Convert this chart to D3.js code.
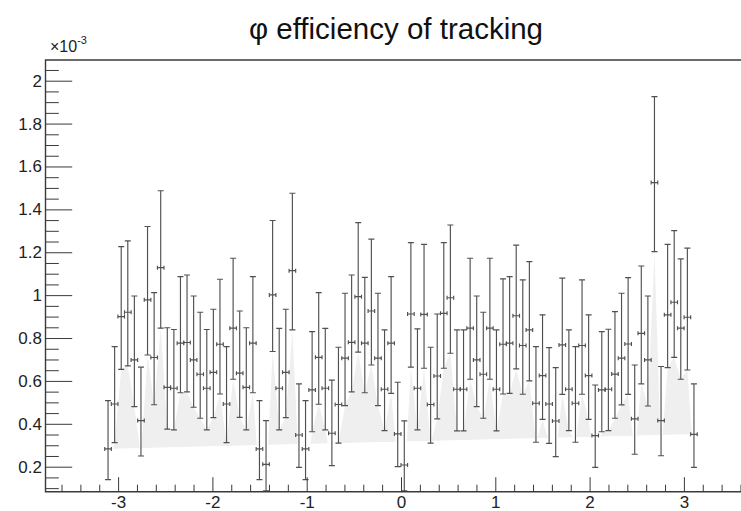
<!DOCTYPE html>
<html>
<head>
<meta charset="utf-8">
<script src="https://cdn.jsdelivr.net/npm/d3@7"></script>
<style>
  html, body { margin: 0; padding: 0; background: #fff; }
  svg { display: block; font-family: "Liberation Sans", Arial, Helvetica, sans-serif; }
</style>
</head>
<body>
<svg id="chart" width="741" height="511"></svg>
<script>
// Tracking efficiency vs phi, 90 bins over [-pi, pi], values in units of 1e-3
const nBins = 90;
const phiMin = -Math.PI;
const phiMax = Math.PI;

const effValue = [
  0.283, 0.4925, 0.900, 0.920, 0.698, 0.415, 0.978, 0.709, 1.128, 0.570,
  0.566, 0.776, 0.779, 0.698, 0.631, 0.566, 0.640, 0.771, 0.4925, 0.846,
  0.636, 0.570, 0.776, 0.283, 0.211, 1.001, 0.566, 0.640, 1.114, 0.348,
  0.283, 0.558, 0.710, 0.566, 0.356, 0.490, 0.706, 0.780, 0.993, 0.776,
  0.926, 0.706, 0.561, 0.776, 0.353, 0.208, 0.912, 0.566, 0.910, 0.490,
  0.623, 0.915, 0.988, 0.561, 0.561, 0.846, 0.698, 0.631, 0.846, 0.561,
  0.771, 0.776, 0.904, 0.765, 0.838, 0.496, 0.625, 0.4925, 0.413, 0.768,
  0.561, 0.496, 0.765, 0.625, 0.345, 0.558, 0.561, 0.632, 0.706, 0.772,
  0.423, 0.822, 0.698, 1.525, 0.415, 0.908, 0.967, 0.846, 0.897, 0.351
];

// Upper end of each confidence interval
const effUpper = [
  0.508, 0.760, 1.226, 1.253, 0.996, 0.664, 1.320, 1.012, 1.487, 0.848,
  0.840, 1.086, 1.094, 0.996, 0.920, 0.840, 0.934, 1.074, 0.760, 1.172,
  0.926, 0.848, 1.086, 0.508, 0.415, 1.348, 0.845, 0.934, 1.475, 0.586,
  0.508, 0.830, 1.012, 0.845, 0.604, 0.757, 1.009, 1.094, 1.338, 1.083,
  1.261, 1.009, 0.838, 1.086, 0.594, 0.414, 1.245, 0.843, 1.237, 0.757,
  0.912, 1.245, 1.327, 0.838, 0.838, 1.172, 0.996, 0.920, 1.172, 0.838,
  1.076, 1.086, 1.233, 1.071, 1.156, 0.760, 0.908, 0.755, 0.662, 1.079,
  0.838, 0.760, 1.071, 0.908, 0.581, 0.830, 0.841, 0.923, 1.009, 1.082,
  0.674, 1.136, 0.996, 1.926, 0.667, 1.237, 1.301, 1.169, 1.219, 0.586
];

// Lower end of each confidence interval
const effLower = [
  0.140, 0.312, 0.654, 0.670, 0.480, 0.250, 0.721, 0.489, 0.846, 0.375,
  0.372, 0.545, 0.549, 0.477, 0.426, 0.372, 0.429, 0.539, 0.312, 0.608,
  0.430, 0.372, 0.545, 0.140, 0.087, 0.737, 0.372, 0.429, 0.838, 0.197,
  0.140, 0.363, 0.491, 0.372, 0.205, 0.310, 0.485, 0.549, 0.734, 0.545,
  0.674, 0.485, 0.368, 0.542, 0.200, 0.087, 0.664, 0.372, 0.659, 0.310,
  0.423, 0.659, 0.729, 0.367, 0.367, 0.608, 0.480, 0.426, 0.608, 0.367,
  0.539, 0.542, 0.656, 0.538, 0.600, 0.314, 0.421, 0.309, 0.247, 0.537,
  0.368, 0.314, 0.538, 0.421, 0.197, 0.363, 0.368, 0.426, 0.488, 0.537,
  0.258, 0.586, 0.483, 1.203, 0.251, 0.662, 0.710, 0.608, 0.651, 0.197
];

const xTickValues = [-3, -2, -1, 0, 1, 2, 3];
const xTickLabels = ["-3", "-2", "-1", "0", "1", "2", "3"];
const yTickValues = [0.2, 0.4, 0.6, 0.8, 1.0, 1.2, 1.4, 1.6, 1.8, 2.0];
const yTickLabels = ["0.2", "0.4", "0.6", "0.8", "1", "1.2", "1.4", "1.6", "1.8", "2"];

const titleText = "\u03C6 efficiency of tracking";

// ---- layout ----
const svg = d3.select("#chart");
const frame = { left: 45.5, top: 60, bottom: 491.7, right: 756.5 };
const lineColor = "#3a3a3a";

const binWidth = (phiMax - phiMin) / nBins;
const points = effValue.map((v, i) => ({
  x: phiMin + (i + 0.5) * binWidth,
  y: v, hi: effUpper[i], lo: effLower[i]
}));

const x = d3.scaleLinear().domain([-1.2 * Math.PI, 1.2 * Math.PI]).range([frame.left, frame.right]);
const y = d3.scaleLinear().domain([0.0834, 2.0965]).range([frame.bottom, frame.top]);

// plot-area clip
const defs = svg.append("defs");
defs.append("clipPath").attr("id", "plotClip")
  .append("rect")
  .attr("x", frame.left).attr("y", frame.top)
  .attr("width", frame.right - frame.left).attr("height", frame.bottom - frame.top);

// the band only shows above the chord joining the first and last points
const first = points[0], last = points[points.length - 1];
defs.append("clipPath").attr("id", "chordClip")
  .append("polygon")
  .attr("points", [
    [x(first.x), y(first.y)], [x(last.x), y(last.y)],
    [x(last.x), frame.top], [x(first.x), frame.top]
  ].map(p => p.join(",")).join(" "));

const plot = svg.append("g").attr("clip-path", "url(#plotClip)");

// light grey band traced through the lower interval ends
const bandPts = points.map(p => [x(p.x), y(p.lo)]);
bandPts.push([x(last.x), y(last.y)], [x(first.x), y(first.y)]);
plot.append("g").attr("clip-path", "url(#chordClip)")
  .append("path")
  .attr("d", d3.line()(bandPts) + "Z")
  .attr("fill", "#efefef")
  .attr("stroke", "none");

// error bars
const halfCap = 3.0, halfTick = 2.0;
const bars = plot.append("g")
  .attr("stroke", "#505050")
  .attr("stroke-width", 1.15)
  .attr("fill", "none");

const bar = bars.selectAll("g.pt").data(points).join("g").attr("class", "pt");
bar.append("line")
  .attr("x1", d => x(d.x)).attr("x2", d => x(d.x))
  .attr("y1", d => y(d.lo)).attr("y2", d => y(d.hi));
bar.append("line")
  .attr("x1", d => x(d.x) - halfCap).attr("x2", d => x(d.x) + halfCap)
  .attr("y1", d => y(d.hi)).attr("y2", d => y(d.hi));
bar.append("line")
  .attr("x1", d => x(d.x) - halfCap).attr("x2", d => x(d.x) + halfCap)
  .attr("y1", d => y(d.lo)).attr("y2", d => y(d.lo));
// horizontal bin-width bar with end ticks
bar.append("line")
  .attr("x1", d => x(d.x - binWidth / 2)).attr("x2", d => x(d.x + binWidth / 2))
  .attr("y1", d => y(d.y)).attr("y2", d => y(d.y));
bar.append("line")
  .attr("x1", d => x(d.x - binWidth / 2)).attr("x2", d => x(d.x - binWidth / 2))
  .attr("y1", d => y(d.y) - halfTick).attr("y2", d => y(d.y) + halfTick);
bar.append("line")
  .attr("x1", d => x(d.x + binWidth / 2)).attr("x2", d => x(d.x + binWidth / 2))
  .attr("y1", d => y(d.y) - halfTick).attr("y2", d => y(d.y) + halfTick);

// ---- axes ----
const fontSize = 17;

// x axis: majors every 1, minors every 0.2 (ticks pointing into the frame)
const xMinor = d3.range(-18, 19).map(k => k * 0.2).filter(v => Math.abs(v - Math.round(v)) > 1e-6);
svg.append("g")
  .attr("transform", `translate(0,${frame.bottom})`)
  .call(d3.axisBottom(x).tickValues(xMinor).tickSize(-7).tickFormat(""))
  .call(g => g.select(".domain").remove())
  .call(g => g.selectAll("line").attr("stroke", lineColor));
svg.append("g")
  .attr("transform", `translate(0,${frame.bottom})`)
  .call(d3.axisBottom(x).tickValues(xTickValues).tickSize(-14.5).tickPadding(4.5)
        .tickFormat((d, i) => xTickLabels[i]))
  .call(g => g.select(".domain").remove())
  .call(g => g.selectAll("line").attr("stroke", lineColor))
  .call(g => g.selectAll("text").attr("font-size", fontSize).attr("fill", "#222")
        .attr("font-family", "Liberation Sans, Arial, sans-serif"));

// y axis: majors every 0.2, minors every 0.05
const yMinor = d3.range(2, 42).map(k => k * 0.05).filter(v => Math.abs(v * 5 - Math.round(v * 5)) > 1e-6);
svg.append("g")
  .attr("transform", `translate(${frame.left},0)`)
  .call(d3.axisLeft(y).tickValues(yMinor).tickSize(-13.3).tickFormat(""))
  .call(g => g.select(".domain").remove())
  .call(g => g.selectAll("line").attr("stroke", lineColor));
svg.append("g")
  .attr("transform", `translate(${frame.left},0)`)
  .call(d3.axisLeft(y).tickValues(yTickValues).tickSize(-26.7).tickPadding(3.5)
        .tickFormat((d, i) => yTickLabels[i]))
  .call(g => g.select(".domain").remove())
  .call(g => g.selectAll("line").attr("stroke", lineColor))
  .call(g => g.selectAll("text").attr("font-size", fontSize).attr("fill", "#222")
        .attr("font-family", "Liberation Sans, Arial, sans-serif"));

// frame lines: left, bottom, top
svg.append("path")
  .attr("d", `M${frame.right},${frame.top}H${frame.left}V${frame.bottom}H${frame.right}`)
  .attr("fill", "none")
  .attr("stroke", lineColor)
  .attr("stroke-width", 1.4);

// exponent label
const expo = svg.append("text")
  .attr("x", 50).attr("y", 51.5)
  .attr("font-size", 16).attr("fill", "#222");
expo.append("tspan").text("\u00D710");
expo.append("tspan").attr("dy", -8).attr("font-size", 11).text("-3");

// title
svg.append("text")
  .attr("x", 396).attr("y", 39.4)
  .attr("text-anchor", "middle")
  .attr("font-size", 29.5)
  .attr("fill", "#111")
  .text(titleText);
</script>
</body>
</html>
